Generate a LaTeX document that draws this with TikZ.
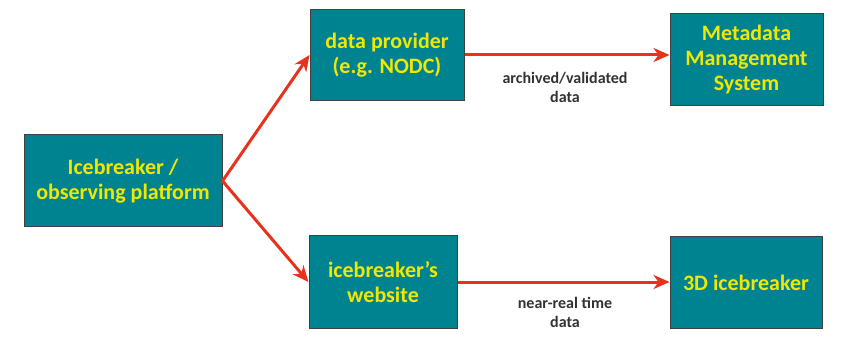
\documentclass[tikz,border=0pt]{standalone}
\usepackage{fontspec}
\setmainfont{Carlito}
\usetikzlibrary{arrows.meta}
\definecolor{boxfill}{RGB}{0,131,145}
\definecolor{boxtext}{RGB}{240,232,0}
\definecolor{flowred}{RGB}{232,50,30}
\definecolor{labelgray}{RGB}{50,50,50}
\begin{document}
\begin{tikzpicture}[x=1pt,y=-1pt,
  stage/.style={draw=black!75, line width=1pt, fill=boxfill, text=boxtext,
    font=\fontsize{22}{25}\selectfont\bfseries, align=center, inner sep=0pt},
  flow/.style={draw=flowred, line width=3pt,
    -{Stealth[length=16pt,width=14pt,inset=5pt]}},
  flowlabel/.style={text=labelgray, font=\fontsize{16}{19}\selectfont\bfseries, align=center}]
\useasboundingbox (0,0) rectangle (845,347);
\node[stage, minimum width=198pt, minimum height=92pt] (ship) at (123,181) {Icebreaker /\\observing platform};
\node[stage, minimum width=154pt, minimum height=91pt] (prov) at (387,55) {data provider\\(e.g. NODC)};
\node[stage, minimum width=153pt, minimum height=92pt] (meta) at (746.5,60) {Metadata\\Management\\System};
\node[stage, minimum width=148pt, minimum height=92pt] (web) at (383,282) {icebreaker's\\website};
\node[stage, minimum width=152pt, minimum height=91pt] (threed) at (746,282.5) {3D icebreaker};
\draw[flow] (ship.east) -- (prov.west);
\draw[flow] (ship.east) -- (web.west);
\draw[flow] (prov.east) -- (meta.west |- prov.east);
\draw[flow] (web.east) -- (threed.west |- web.east);
\node[flowlabel] (lblA) at (565,87) {archived/validated\\data};
\node[flowlabel] (lblB) at (565,312) {near-real time\\data};
\end{tikzpicture}
\end{document}
